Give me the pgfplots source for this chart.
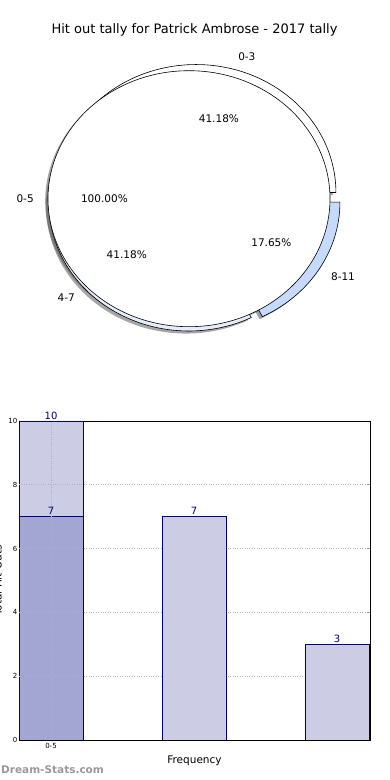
\documentclass[border=0pt]{standalone}
\usepackage{fontspec}
\setmainfont{DejaVu Sans}
\setsansfont{DejaVu Sans}
\usepackage{pgfplots}
\pgfplotsset{compat=1.18}
\definecolor{navyc}{RGB}{0,0,128}
\definecolor{barlight}{RGB}{204,204,228}
\definecolor{bardark}{RGB}{163,166,210}
\definecolor{wedgeA}{RGB}{255,255,255}
\definecolor{wedgeB}{RGB}{230,236,252}
\definecolor{wedgeC}{RGB}{198,218,252}
\definecolor{shadA}{RGB}{77,77,77}
\definecolor{shadC}{RGB}{59,65,76}

% wedge: #1 cx, #2 cy, #3 rx, #4 ry, #5 start angle, #6 end angle, #7 explode, #8 style
\newcommand\piewedge[8]{%
  \pgfmathsetmacro\pwm{(#5+#6)/2}%
  \pgfmathsetmacro\pwx{#1+#7*#3*cos(\pwm)}%
  \pgfmathsetmacro\pwy{#2+#7*#4*sin(\pwm)}%
  \pgfmathsetmacro\pwsx{\pwx+#3*cos(#5)}%
  \pgfmathsetmacro\pwsy{\pwy+#4*sin(#5)}%
  \edef\pwtemp{\noexpand\path[#8] (axis cs:\pwx,\pwy) -- (axis cs:\pwsx,\pwsy) arc[start angle=#5, end angle=#6, x radius=#3pt, y radius=#4pt] -- cycle;}%
  \pwtemp
}
% label: #1 cx, #2 cy, #3 rx, #4 ry, #5 start, #6 end, #7 explode, #8 distance, #9 text
\newcommand\pielabel[9]{%
  \pgfmathsetmacro\plm{(#5+#6)/2}%
  \pgfmathsetmacro\plx{#1+#7*#3*cos(\plm)+#8*#3*cos(\plm)}%
  \pgfmathsetmacro\ply{#2+#7*#4*sin(\plm)+#8*#4*sin(\plm)}%
  \pgfmathsetmacro\plc{cos(\plm)}%
  \pgfmathtruncatemacro\plside{#8>1 ? (\plc>0.01 ? 1 : (\plc<-0.01 ? 2 : 0)) : 0}%
  \ifnum\plside=1 \def\planc{west}\fi
  \ifnum\plside=2 \def\planc{east}\fi
  \ifnum\plside=0 \def\planc{center}\fi
  \edef\pltemp{\noexpand\node[anchor=\planc, inner sep=0pt, font=\noexpand\fontsize{10.5}{12}\noexpand\selectfont] at (axis cs:\plx,\ply) {#9};}%
  \pltemp
}

\begin{document}
\begin{tikzpicture}[x=1pt,y=1pt]
% ---------------- pie -----------------
\begin{axis}[at={(0pt,390pt)}, anchor=south west, scale only axis,
  width=390pt, height=390pt, xmin=0, xmax=390, ymin=0, ymax=390,
  hide axis, clip=false]
% values: 0-5: 17 (one slice); 0-3: 7, 4-7: 7, 8-11: 3
\pgfmathsetmacro\tot{7+7+3}
\pgfmathsetmacro\aA{360*7/\tot}
\pgfmathsetmacro\aB{\aA+360*7/\tot}
% shadows
\path[fill=shadA, fill opacity=0.5] (axis cs:186.2,188.74) ellipse[x radius=141pt, y radius=128pt];
\piewedge{191.2}{188.74}{140}{128}{0}{\aA}{0.05}{fill=shadA, fill opacity=0.5}
\piewedge{191.2}{188.74}{140}{128}{\aA}{\aB}{0.05}{fill=shadA, fill opacity=0.5}
\piewedge{191.2}{188.74}{140}{128}{\aB}{360}{0.05}{fill=shadC, fill opacity=0.5}
% exploded slices
\piewedge{194}{191.3}{140}{128}{0}{\aA}{0.05}{fill=wedgeA, draw=black, line width=0.6pt, line join=miter}
\piewedge{194}{191.3}{140}{128}{\aA}{\aB}{0.05}{fill=wedgeB, draw=black, line width=0.6pt, line join=miter}
\piewedge{194}{191.3}{140}{128}{\aB}{360}{0.05}{fill=wedgeC, draw=black, line width=0.6pt, line join=miter}
% the single slice 0-5
\path[fill=white, draw=black, line width=0.6pt] (axis cs:189,191.3) ellipse[x radius=141pt, y radius=128pt];
% labels
\pielabel{194}{191.3}{140}{128}{0}{\aA}{0.05}{1.1}{0-3}
\pielabel{194}{191.3}{140}{128}{\aA}{\aB}{0.05}{1.1}{4-7}
\pielabel{194}{191.3}{140}{128}{\aB}{360}{0.05}{1.1}{8-11}
\pielabel{194}{191.3}{140}{128}{0}{\aA}{0.05}{0.6}{41.18\%}
\pielabel{194}{191.3}{140}{128}{\aA}{\aB}{0.05}{0.6}{41.18\%}
\pielabel{194}{191.3}{140}{128}{\aB}{360}{0.05}{0.6}{17.65\%}
\pielabel{189}{191.3}{141}{128}{0}{360}{0}{1.1}{0-5}
\pielabel{189}{191.3}{141}{128}{0}{360}{0}{0.6}{100.00\%}
\node[font=\fontsize{13}{15}\selectfont] at (axis cs:194.5,360) {Hit out tally for Patrick Ambrose - 2017 tally};
\end{axis}
% ---------------- bars -----------------
\begin{axis}[at={(19pt,40pt)}, anchor=south west, scale only axis,
  width=351pt, height=319pt,
  xmin=-0.2238, xmax=2.2308, ymin=0, ymax=10,
  ytick={0,2,4,6,8,10}, xtick={0}, xticklabels={0-5},
  xmajorgrids, ymajorgrids,
  grid style={black!30, dash pattern=on 0.8pt off 1.6pt, line width=0.6pt},
  tick align=inside, tick pos=both, major tick length=3pt,
  tick style={black!45, line width=0.6pt},
  axis line style={black, line width=0.8pt},
  /pgf/number format/assume math mode=true,
  yticklabel style={font=\fontsize{7}{8}\selectfont, inner sep=1.5pt},
  xticklabel style={font=\fontsize{7}{8}\selectfont},
  xlabel={Frequency}, xlabel style={font=\fontsize{10.5}{12}\selectfont},
  ylabel={Total Hit Outs}, ylabel style={font=\fontsize{10.5}{12}\selectfont, yshift=1.5pt},
  every node near coord/.append style={font=\fontsize{10}{11}\selectfont, text=navyc, inner sep=1.5pt},
]
\addplot[ybar, bar width=64pt, bar shift=0pt, fill=barlight, draw=navyc, line width=0.7pt, nodes near coords] coordinates {(0,10) (1,7) (2,3)};
\addplot[ybar, bar width=64pt, bar shift=0pt, fill=bardark, draw=navyc, line width=0.7pt, nodes near coords] coordinates {(0,7)};
\pgfplotsinvokeforeach{2,4,6,8}{
  \draw[black!30, dash pattern=on 0.8pt off 1.6pt, line width=0.6pt] (axis cs:-0.2238,#1) -- (axis cs:0.2238,#1);
}
\draw[black!30, dash pattern=on 0.8pt off 1.6pt, line width=0.6pt] (axis cs:0,0) -- (axis cs:0,10);
\end{axis}
\node[anchor=west, inner sep=0pt, text=black!40, font=\bfseries\fontsize{10.5}{12}\selectfont] at (1pt,10pt) {Dream-Stats.com};
\pgfresetboundingbox
\useasboundingbox (0pt,0pt) rectangle (390pt,780pt);
\end{tikzpicture}
\end{document}
